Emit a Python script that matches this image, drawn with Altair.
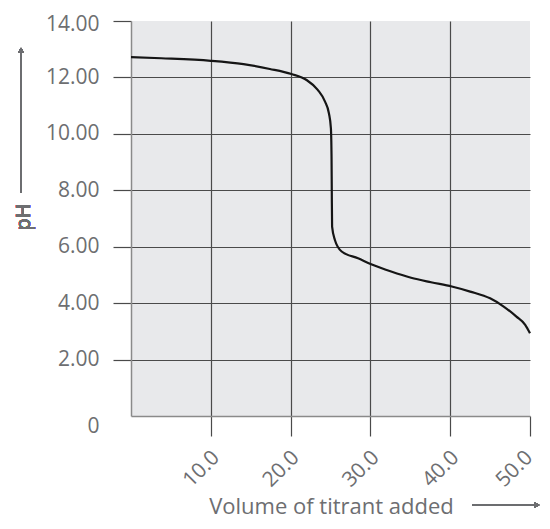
import altair as alt
import pandas as pd

volume = [0, 3.8, 10, 14.1, 17.4, 20.1, 22.0, 23.4, 24.3, 24.8, 25.05, 25.13, 25.16, 25.2,
          25.55, 26.4, 28.45, 30.1, 32.6, 35.1, 37.6, 40.2, 42.5, 45.0, 46.7, 48.3, 49.4, 50]
ph = [12.72, 12.68, 12.59, 12.47, 12.30, 12.12, 11.91, 11.56, 11.15, 10.73, 10.2, 9.2, 8.0,
      6.71, 6.24, 5.83, 5.59, 5.38, 5.12, 4.90, 4.74, 4.59, 4.41, 4.17, 3.88, 3.52, 3.23, 2.93]
x_ticks = [10, 20, 30, 40, 50]
y_ticks = [0, 2, 4, 6, 8, 10, 12, 14]
x_title = "Volume of titrant added"
y_title = "pH"

df = pd.DataFrame({"volume": volume, "ph": ph})

FONT = "Open Sans"
TXT = "#6d6e71"
GRID = "#4a4a4a"
W, H = 399, 395

x_enc = alt.X(
    "volume:Q",
    scale=alt.Scale(domain=[0, 50], nice=False, zero=False),
    axis=alt.Axis(
        values=x_ticks, format=".1f", labelAngle=315, labelAlign="right",
        labelBaseline="middle", labelFont=FONT, labelFontSize=21, labelColor=TXT,
        labelPadding=18,
        labelOffset={"condition": {"test": "datum.value >= 50", "value": -1}, "value": 5},
        tickSize=20, tickColor=GRID, tickWidth=1.2,
        domainColor="#8a8a8a", domainWidth=1.5,
        grid=True, gridColor=GRID, gridWidth=1.2,
        gridOpacity={"condition": {"test": "datum.value >= 50", "value": 0}, "value": 1},
        title=x_title, titleFont=FONT, titleFontSize=22, titleColor=TXT,
        titleFontWeight="normal", titleX=200, titleY=97, titleBaseline="alphabetic",
        titleAnchor="middle",
    ),
)
y_enc = alt.Y(
    "ph:Q",
    scale=alt.Scale(domain=[0, 14], nice=False),
    axis=alt.Axis(
        values=y_ticks,
        labelExpr="datum.value == 0 ? '0' : format(datum.value, '.2f')",
        labelFont=FONT, labelFontSize=21, labelColor=TXT, labelPadding=14,
        labelOffset={"expr": "datum.value == 0 ? 10 : (datum.value >= 14 ? 3 : 0)"},
        tickSize=18, tickColor=GRID, tickWidth=1.2,
        tickOpacity={"condition": {"test": "datum.value == 0", "value": 0}, "value": 1},
        domainColor="#8a8a8a", domainWidth=1.5,
        grid=True, gridColor=GRID, gridWidth=1.2,
        gridOpacity={"condition": {"test": "datum.value >= 14 || datum.value == 0", "value": 0}, "value": 1},
        title=None,
    ),
)

curve = alt.Chart(df).mark_line(color="#151515", strokeWidth=2.2, interpolate="monotone").encode(
    x=x_enc, y=y_enc
)

# y title and arrows (decorations)
ytxt = alt.Chart(df).mark_text(
    text=y_title, angle=270, font=FONT, fontSize=20, color=TXT, baseline="middle", align="center"
).encode(x=alt.value(-107), y=alt.value(196))
yarrow = alt.Chart(df).mark_rule(color="#6d6e71", strokeWidth=1.3).encode(
    x=alt.value(-110), y=alt.value(172), y2=alt.value(30)
)
yhead = alt.Chart(df).mark_point(shape="triangle-up", filled=True, color="#6d6e71", size=30, opacity=1).encode(
    x=alt.value(-110), y=alt.value(29)
)
xarrow = alt.Chart(df).mark_rule(color="#6d6e71", strokeWidth=1.3).encode(
    x=alt.value(341), x2=alt.value(405), y=alt.value(484)
)
xhead = alt.Chart(df).mark_point(shape="triangle-right", filled=True, color="#6d6e71", size=30, opacity=1).encode(
    x=alt.value(406), y=alt.value(484)
)

chart = alt.layer(curve, ytxt, yarrow, yhead, xarrow, xhead).properties(
    width=W, height=H,
    autosize=alt.AutoSizeParams(type="none"),
    padding={"left": 123, "top": 13, "right": 12, "bottom": 105},
    background="white",
).configure_view(fill="#e8e9eb", stroke=None)

chart.save("out.html", embed_options={"renderer": "svg", "actions": False})
